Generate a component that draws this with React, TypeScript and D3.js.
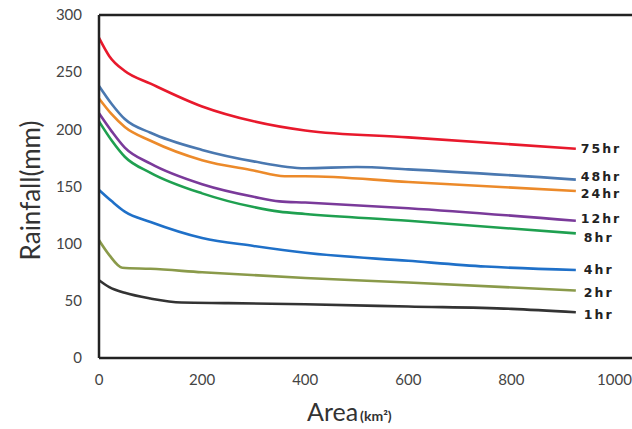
import React from "react";
import * as d3 from "d3";

const seriesNames = ["75hr", "48hr", "24hr", "12hr", "8hr", "4hr", "2hr", "1hr"];
const seriesColors = ["#e8192c", "#4a78b0", "#ec8a2a", "#7a3a9a", "#1fa050", "#1f70c8", "#8a9a4a", "#333333"];

const area75 = [0, 20, 50, 100, 200, 300, 400, 600, 925];
const rain75 = [280, 264, 251, 240, 220, 207, 199, 193, 183];
const area48 = [0, 25, 50, 100, 200, 300, 400, 500, 600, 925];
const rain48 = [238, 222, 209, 197, 182, 172, 166, 167, 165, 156];
const area24 = [0, 25, 50, 100, 200, 300, 360, 400, 600, 925];
const rain24 = [227, 213, 202, 190, 173, 164, 159, 159, 154, 146];
const area12 = [0, 25, 50, 100, 200, 300, 350, 400, 600, 925];
const rain12 = [214, 198, 184, 170, 152, 141, 137, 136, 131, 120];
const area8 = [0, 25, 50, 100, 200, 300, 350, 400, 600, 925];
const rain8 = [207, 190, 176, 162, 144, 132, 128, 126, 120, 109];
const area4 = [0, 25, 50, 100, 200, 300, 400, 600, 750, 925];
const rain4 = [147, 137, 128, 119, 105, 98, 92, 85, 80, 77];
const area2 = [0, 20, 45, 100, 200, 400, 600, 925];
const rain2 = [103, 90, 79, 78, 75, 70, 66, 59];
const area1 = [0, 20, 50, 100, 160, 250, 400, 600, 800, 925];
const rain1 = [68, 62, 57, 52, 48.5, 48, 47, 45, 43, 40];

const seriesAreas = [area75, area48, area24, area12, area8, area4, area2, area1];
const seriesRains = [rain75, rain48, rain24, rain12, rain8, rain4, rain2, rain1];
const labelOffsets = [0, -3, 3, -2, 4, 0, 2, 2];

const xTicks = [0, 200, 400, 600, 800, 1000];
const yTicks = [0, 50, 100, 150, 200, 250, 300];

export default function App() {
  const W = 632, H = 429;
  const left = 99, top = 15, bottom = 358;
  const x = d3.scaleLinear().domain([0, 1000]).range([left, 614.5]);
  const y = d3.scaleLinear().domain([0, 300]).range([bottom, top]);
  const line = d3
    .line<[number, number]>()
    .x((d) => x(d[0]))
    .y((d) => y(d[1]))
    .curve(d3.curveMonotoneX);
  const font = "Lato, 'Open Sans', sans-serif";

  return (
    <div style={{ position: "fixed", left: 0, top: 0 }}>
      <svg width={W} height={H} style={{ display: "block", background: "#fff" }}>
        {seriesNames.map((name, i) => {
          const pts = seriesAreas[i].map((a, j) => [a, seriesRains[i][j]] as [number, number]);
          const last = pts[pts.length - 1];
          return (
            <g key={name}>
              <path d={line(pts) || ""} fill="none" stroke={seriesColors[i]} strokeWidth={2.6} />
              <text
                x={x(last[0]) + 5 + (name.length === 3 ? 3 : 0)}
                y={y(last[1]) + labelOffsets[i]}
                dy="0.35em"
                fontFamily="'DejaVu Sans', sans-serif"
                fontWeight="bold"
                fontSize={12.5}
                letterSpacing={2}
                fill="#222"
              >
                {name}
              </text>
            </g>
          );
        })}
        <line x1={left} x2={W} y1={top} y2={top} stroke="#222" strokeWidth={2.5} />
        <line x1={left} x2={W} y1={bottom} y2={bottom} stroke="#222" strokeWidth={2.5} />
        <line x1={left} x2={left} y1={top} y2={bottom} stroke="#222" strokeWidth={2.5} />
        {yTicks.map((t) => (
          <text key={t} x={82} y={y(t)} dy="0.35em" textAnchor="end" fontFamily={font} fontSize={15} fill="#444">
            {t}
          </text>
        ))}
        {xTicks.map((t) => (
          <text key={t} x={x(t)} y={385} textAnchor="middle" fontFamily={font} fontSize={15} fill="#444">
            {t}
          </text>
        ))}
        <text
          transform={`translate(40,${(top + bottom) / 2 + 4}) rotate(-90)`}
          textAnchor="middle"
          fontFamily={font}
          fontSize={26}
          fill="#333"
        >
          Rainfall(mm)
        </text>
        <text x={307} y={421} fontFamily={font} fontSize={25} fill="#333">
          Area
          <tspan fontSize={14} fontWeight="bold" dx={2}>
            (km²)
          </tspan>
        </text>
      </svg>
    </div>
  );
}
